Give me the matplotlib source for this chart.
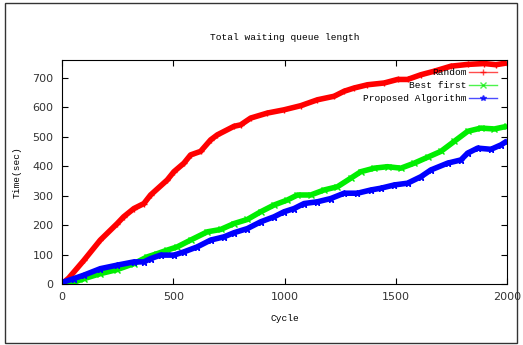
import matplotlib
matplotlib.use("Agg")
from matplotlib import pyplot as plt
from matplotlib.patches import Rectangle

# values
random_cycle = [0, 30, 98, 172, 248, 277, 323, 368, 398, 473, 503, 548, 578, 623, 668, 698,
                773, 803, 848, 923, 998, 1073, 1148, 1223, 1268, 1313, 1373, 1448, 1508,
                1553, 1613, 1673, 1748, 1823, 1898, 1950, 2000]
random_time = [0, 20, 80, 149, 205, 228, 256, 273, 302, 353, 381, 410, 438, 450, 489, 506,
               535, 540, 563, 580, 591, 605, 625, 637, 654, 665, 676, 682, 694,
               694, 710, 722, 739, 745, 748, 744, 750]

best_cycle = [0, 50, 98, 172, 248, 323, 383, 428, 473, 518, 578, 653, 713, 773, 833, 893,
              953, 1013, 1058, 1118, 1178, 1238, 1298, 1343, 1403, 1463, 1523, 1583,
              1643, 1703, 1763, 1823, 1883, 1943, 2000]
best_time = [0, 5, 18, 35, 49, 69, 92, 103, 115, 126, 149, 177, 185, 205, 219, 245,
             268, 285, 302, 302, 319, 330, 359, 381, 393, 398, 393, 410,
             430, 450, 484, 518, 529, 526, 535]

prop_cycle = [0, 52, 98, 172, 248, 323, 368, 398, 443, 503, 548, 608, 668, 728, 773, 833,
              893, 953, 998, 1043, 1088, 1148, 1208, 1268, 1328, 1388, 1433, 1493, 1553,
              1613, 1658, 1733, 1793, 1823, 1868, 1928, 1973, 2000]
prop_time = [5, 18, 30, 52, 64, 75, 75, 86, 98, 98, 109, 126, 149, 160, 174, 188,
             211, 228, 245, 256, 273, 279, 290, 308, 308, 319, 325, 336, 342,
             364, 387, 410, 421, 444, 461, 457, 472, 485]

MONO = "Liberation Mono"
MONO_SIZE = 6.8

fig = plt.figure(figsize=(5.23, 3.45), dpi=100)
ax = fig.add_axes([62 / 523, 1 - 284 / 345, 445 / 523, 224 / 345])

series = [
    ("Random", random_cycle, random_time, "#ff0000", "+"),
    ("Best first", best_cycle, best_time, "#00ee00", "x"),
    ("Proposed Algorithm", prop_cycle, prop_time, "#0000ff", "*"),
]
for label, xs, ys, col, mk in series:
    ax.plot(xs, ys, color=col, lw=4, solid_capstyle="butt")
    ax.plot(xs, ys, color=col, lw=0, marker=mk, ms=5, mew=1)
    # legend handle
    ax.plot([], [], color=col, lw=1, marker=mk, ms=4, alpha=0.7, label=label)

ax.set_xlim(0, 2000)
ax.set_ylim(0, 760)
ax.set_xticks([0, 500, 1000, 1500, 2000])
ax.set_yticks(range(0, 800, 100))
ax.tick_params(direction="in", top=True, right=True, length=4, labelsize=8,
               labelcolor="#333333", pad=6)
for s in ax.spines.values():
    s.set_linewidth(0.8)

ax.set_title("Total waiting queue length", fontfamily=MONO, fontsize=MONO_SIZE, pad=14.5)
ax.set_xlabel("Cycle", fontfamily=MONO, fontsize=MONO_SIZE, labelpad=8.5)
ax.set_ylabel("Time(sec)", fontfamily=MONO, fontsize=MONO_SIZE, labelpad=7.5)

handles, labels = ax.get_legend_handles_labels()
ax.legend(handles[-3:], labels[-3:], loc="upper right", frameon=False, markerfirst=False,
          prop={"family": MONO, "size": MONO_SIZE}, handlelength=3.0, handletextpad=0.2,
          labelspacing=0.45, borderaxespad=0.2, bbox_to_anchor=(0.99, 0.99))

fig.patches.append(Rectangle((5 / 523, 2 / 345), 512 / 523, 340 / 345, fill=False,
                             edgecolor="#333333", lw=1, transform=fig.transFigure))

fig.savefig("out.png", dpi=100)
